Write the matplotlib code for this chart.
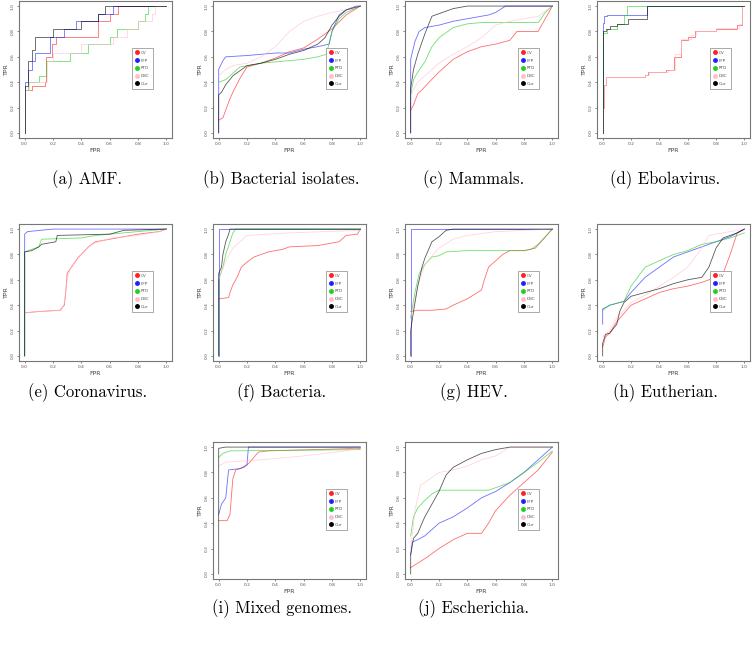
import matplotlib
matplotlib.use('Agg')
import matplotlib.pyplot as plt
from matplotlib.lines import Line2D

# ROC points (FPR, TPR), one list per panel and method
methods = ['CV', 'FFP', 'RTD', 'DBC', 'Our']
colors = ['#ff2020', '#2020ff', '#20d020', '#ffc0cb', '#000000']

# (a) AMF
amf_cv = [(0, 0), (0, 0.34), (0.05, 0.37), (0.14, 0.4), (0.15, 0.6), (0.19, 0.7), (0.22, 0.76), (0.52, 0.88), (0.6, 0.94), (0.66, 1.0), (1, 1)]
amf_ffp = [(0, 0), (0, 0.4), (0.02, 0.5), (0.05, 0.57), (0.07, 0.63), (0.18, 0.76), (0.28, 0.82), (0.36, 0.88), (0.52, 0.94), (0.62, 1.0), (1, 1)]
amf_rtd = [(0, 0), (0, 0.34), (0.02, 0.4), (0.1, 0.45), (0.15, 0.57), (0.32, 0.63), (0.45, 0.7), (0.6, 0.76), (0.65, 0.82), (0.8, 0.88), (0.85, 0.94), (0.87, 1.0), (1, 1)]
amf_dbc = [(0, 0), (0, 0.34), (0.03, 0.4), (0.16, 0.57), (0.2, 0.63), (0.4, 0.7), (0.62, 0.76), (0.72, 0.82), (0.8, 0.88), (0.9, 0.94), (0.92, 1.0), (1, 1)]
amf_our = [(0, 0), (0, 0.37), (0.02, 0.57), (0.05, 0.65), (0.07, 0.76), (0.2, 0.82), (0.4, 0.88), (0.52, 0.94), (0.57, 1.0), (1, 1)]

# (b) Bacterial isolates
bac_iso_cv = [(0, 0.1), (0.03, 0.12), (0.05, 0.18), (0.08, 0.27), (0.1, 0.32), (0.15, 0.43), (0.2, 0.52), (0.3, 0.55), (0.4, 0.59), (0.5, 0.64), (0.6, 0.67), (0.7, 0.74), (0.8, 0.82), (0.9, 0.93), (1, 1)]
bac_iso_ffp = [(0, 0), (0, 0.5), (0.03, 0.57), (0.05, 0.6), (0.2, 0.61), (0.4, 0.63), (0.5, 0.63), (0.6, 0.66), (0.7, 0.68), (0.78, 0.7), (0.8, 0.8), (0.85, 0.93), (0.9, 0.97), (0.97, 1.0), (1, 1)]
bac_iso_rtd = [(0, 0.4), (0.05, 0.42), (0.1, 0.47), (0.15, 0.52), (0.3, 0.55), (0.4, 0.56), (0.5, 0.57), (0.6, 0.58), (0.7, 0.6), (0.76, 0.62), (0.8, 0.8), (0.85, 0.9), (0.9, 0.95), (1, 1)]
bac_iso_dbc = [(0, 0.45), (0.05, 0.5), (0.1, 0.53), (0.2, 0.55), (0.3, 0.6), (0.4, 0.68), (0.5, 0.8), (0.6, 0.88), (0.7, 0.92), (0.8, 0.95), (0.9, 0.97), (1, 1)]
bac_iso_our = [(0, 0), (0, 0.3), (0.02, 0.32), (0.05, 0.38), (0.1, 0.45), (0.2, 0.53), (0.3, 0.55), (0.4, 0.58), (0.5, 0.62), (0.6, 0.65), (0.7, 0.7), (0.75, 0.75), (0.8, 0.85), (0.85, 0.92), (0.9, 0.97), (1, 1)]

# (c) Mammals
mam_cv = [(0, 0.18), (0.02, 0.22), (0.05, 0.31), (0.08, 0.34), (0.13, 0.4), (0.2, 0.48), (0.3, 0.58), (0.4, 0.64), (0.5, 0.68), (0.6, 0.7), (0.7, 0.73), (0.75, 0.8), (0.9, 0.8), (0.93, 0.86), (1, 1)]
mam_ffp = [(0, 0), (0, 0.58), (0.03, 0.72), (0.06, 0.8), (0.1, 0.83), (0.2, 0.85), (0.3, 0.88), (0.4, 0.9), (0.55, 0.93), (0.6, 0.95), (0.67, 1.0), (1, 1)]
mam_rtd = [(0, 0.3), (0.02, 0.42), (0.05, 0.48), (0.1, 0.56), (0.15, 0.68), (0.2, 0.75), (0.3, 0.83), (0.4, 0.86), (0.5, 0.87), (0.9, 0.87), (0.92, 0.9), (0.95, 0.95), (1, 1)]
mam_dbc = [(0, 0.3), (0.05, 0.4), (0.1, 0.45), (0.2, 0.55), (0.3, 0.62), (0.4, 0.68), (0.5, 0.75), (0.6, 0.85), (0.7, 0.88), (0.8, 0.9), (0.9, 0.92), (1, 1)]
mam_our = [(0, 0), (0, 0.35), (0.02, 0.5), (0.05, 0.62), (0.1, 0.78), (0.15, 0.92), (0.2, 0.94), (0.3, 0.98), (0.4, 1.0), (1, 1)]

# (d) Ebolavirus
ebo_cv = [(0, 0), (0, 0.2), (0.01, 0.38), (0.02, 0.44), (0.3, 0.46), (0.32, 0.48), (0.45, 0.5), (0.5, 0.6), (0.55, 0.73), (0.6, 0.76), (0.65, 0.8), (0.8, 0.82), (0.95, 0.85), (0.98, 1.0), (1, 1)]
ebo_ffp = [(0, 0), (0, 0.87), (0.01, 0.92), (0.03, 0.93), (0.31, 1.0), (1, 1)]
ebo_rtd = [(0, 0), (0, 0.79), (0.03, 0.82), (0.1, 0.86), (0.15, 0.93), (0.17, 1.0), (1, 1)]
ebo_dbc = [(0, 0), (0, 0.2), (0.01, 0.38), (0.02, 0.44), (0.3, 0.46), (0.33, 0.48), (0.46, 0.5), (0.51, 0.62), (0.55, 0.74), (0.62, 0.77), (0.66, 0.8), (0.8, 0.83), (0.96, 0.86), (0.98, 1.0), (1, 1)]
ebo_our = [(0, 0), (0, 0.8), (0.02, 0.82), (0.05, 0.84), (0.1, 0.86), (0.18, 0.9), (0.31, 1.0), (1, 1)]

# (e) Coronavirus
cor_cv = [(0, 0.34), (0.1, 0.35), (0.25, 0.36), (0.28, 0.4), (0.29, 0.5), (0.3, 0.65), (0.33, 0.7), (0.38, 0.78), (0.4, 0.8), (0.45, 0.86), (0.5, 0.9), (0.6, 0.92), (0.8, 0.96), (0.95, 0.98), (1, 1)]
cor_ffp = [(0, 0), (0, 0.96), (0.02, 0.98), (0.2, 1.0), (1, 1)]
cor_rtd = [(0, 0), (0, 0.82), (0.1, 0.86), (0.12, 0.92), (0.4, 0.93), (0.5, 0.95), (0.7, 0.97), (1, 1)]
cor_dbc = [(0, 0.34), (0.1, 0.35), (0.26, 0.36), (0.28, 0.42), (0.3, 0.6), (0.32, 0.68), (0.37, 0.76), (0.41, 0.81), (0.46, 0.87), (0.52, 0.9), (0.62, 0.93), (0.8, 0.95), (0.95, 0.98), (1, 1)]
cor_our = [(0, 0), (0, 0.82), (0.05, 0.83), (0.1, 0.86), (0.12, 0.88), (0.22, 0.9), (0.23, 0.95), (0.6, 0.96), (0.7, 0.99), (1, 1)]

# (f) Bacteria
bac_cv = [(0, 0.45), (0.07, 0.46), (0.08, 0.5), (0.1, 0.56), (0.13, 0.62), (0.16, 0.7), (0.2, 0.74), (0.25, 0.78), (0.3, 0.8), (0.35, 0.82), (0.45, 0.84), (0.5, 0.86), (0.7, 0.87), (0.85, 0.9), (0.9, 0.95), (0.98, 0.96), (1, 1)]
bac_ffp = [(0, 0), (0, 1.0), (1, 1)]
bac_rtd = [(0, 0), (0, 0.6), (0.03, 0.7), (0.05, 0.8), (0.08, 0.9), (0.1, 0.97), (0.12, 1.0), (1, 1)]
bac_dbc = [(0, 0.6), (0.05, 0.75), (0.1, 0.85), (0.2, 0.95), (0.5, 0.97), (1, 0.99)]
bac_our = [(0, 0), (0, 0.65), (0.02, 0.7), (0.03, 0.8), (0.05, 0.9), (0.07, 0.96), (0.08, 1.0), (1, 1)]

# (g) HEV
hev_cv = [(0, 0.35), (0.05, 0.36), (0.15, 0.36), (0.25, 0.37), (0.3, 0.4), (0.4, 0.45), (0.5, 0.52), (0.52, 0.6), (0.55, 0.7), (0.6, 0.75), (0.65, 0.8), (0.7, 0.83), (0.8, 0.83), (0.88, 0.85), (1, 1)]
hev_ffp = [(0, 0), (0, 1.0), (1, 1)]
hev_rtd = [(0, 0.3), (0.03, 0.5), (0.06, 0.65), (0.1, 0.72), (0.15, 0.78), (0.2, 0.79), (0.25, 0.82), (0.4, 0.83), (0.8, 0.83), (0.85, 0.84), (0.9, 0.88), (1, 1)]
hev_dbc = [(0, 0.3), (0.05, 0.55), (0.1, 0.72), (0.2, 0.85), (0.3, 0.92), (0.4, 0.95), (0.6, 0.98), (1, 1)]
hev_our = [(0, 0), (0, 0.2), (0.02, 0.35), (0.05, 0.55), (0.08, 0.7), (0.1, 0.77), (0.15, 0.9), (0.2, 0.94), (0.25, 0.99), (0.3, 1.0), (1, 1)]

# (h) Eutherian
eut_cv = [(0, 0.07), (0.02, 0.15), (0.05, 0.18), (0.1, 0.27), (0.2, 0.4), (0.3, 0.45), (0.4, 0.5), (0.5, 0.53), (0.6, 0.55), (0.7, 0.58), (0.8, 0.62), (0.85, 0.65), (0.9, 0.8), (0.95, 0.97), (1, 1)]
eut_ffp = [(0, 0.25), (0, 0.37), (0.05, 0.4), (0.15, 0.43), (0.2, 0.5), (0.3, 0.62), (0.4, 0.7), (0.5, 0.78), (0.6, 0.82), (0.7, 0.86), (0.8, 0.9), (0.9, 0.94), (0.95, 0.97), (1, 1)]
eut_rtd = [(0, 0.36), (0.05, 0.4), (0.15, 0.43), (0.2, 0.55), (0.3, 0.7), (0.4, 0.75), (0.5, 0.8), (0.6, 0.83), (0.7, 0.88), (0.8, 0.9), (0.9, 0.93), (1, 0.97)]
eut_dbc = [(0, 0.15), (0.05, 0.2), (0.1, 0.3), (0.2, 0.42), (0.3, 0.48), (0.4, 0.55), (0.5, 0.62), (0.6, 0.7), (0.7, 0.85), (0.75, 0.95), (0.85, 0.97), (1, 1)]
eut_our = [(0, 0), (0, 0.1), (0.02, 0.17), (0.05, 0.18), (0.1, 0.25), (0.12, 0.35), (0.15, 0.42), (0.2, 0.47), (0.3, 0.5), (0.4, 0.53), (0.5, 0.57), (0.6, 0.6), (0.7, 0.62), (0.75, 0.7), (0.8, 0.85), (0.85, 0.93), (0.9, 0.95), (0.95, 0.97), (1, 1)]

# (i) Mixed genomes
mix_cv = [(0, 0.42), (0.06, 0.42), (0.08, 0.47), (0.1, 0.75), (0.12, 0.82), (0.18, 0.84), (0.22, 0.88), (0.28, 0.96), (0.35, 0.97), (1, 0.99)]
mix_ffp = [(0, 0.47), (0.02, 0.55), (0.05, 0.6), (0.07, 0.82), (0.15, 0.83), (0.2, 0.86), (0.21, 1.0), (1, 1)]
mix_rtd = [(0, 0.92), (0.03, 0.95), (0.08, 0.97), (1, 0.98)]
mix_dbc = [(0, 0.85), (0.05, 0.88), (0.3, 0.9), (0.6, 0.93), (0.9, 0.97), (1, 1)]
mix_our = [(0, 0), (0, 0.99), (0.05, 1.0), (1, 1)]

# (j) Escherichia
esc_cv = [(0, 0.05), (0.1, 0.12), (0.2, 0.2), (0.3, 0.27), (0.4, 0.32), (0.5, 0.32), (0.55, 0.4), (0.6, 0.5), (0.7, 0.62), (0.8, 0.72), (0.9, 0.82), (1, 0.96)]
esc_ffp = [(0, 0.15), (0.01, 0.25), (0.05, 0.27), (0.1, 0.3), (0.15, 0.35), (0.2, 0.4), (0.3, 0.45), (0.4, 0.52), (0.5, 0.6), (0.6, 0.65), (0.7, 0.72), (0.8, 0.8), (0.9, 0.9), (1, 1)]
esc_rtd = [(0, 0.3), (0.02, 0.45), (0.05, 0.52), (0.1, 0.58), (0.15, 0.63), (0.2, 0.66), (0.55, 0.66), (0.6, 0.68), (0.7, 0.72), (0.8, 0.8), (0.9, 0.88), (1, 0.97)]
esc_dbc = [(0, 0.2), (0.03, 0.5), (0.07, 0.7), (0.1, 0.72), (0.2, 0.8), (0.3, 0.82), (0.4, 0.85), (0.5, 0.9), (0.6, 0.93), (0.7, 1.0), (1, 1)]
esc_our = [(0, 0), (0, 0.15), (0.02, 0.28), (0.05, 0.32), (0.08, 0.4), (0.1, 0.45), (0.15, 0.55), (0.2, 0.65), (0.25, 0.78), (0.3, 0.84), (0.4, 0.9), (0.5, 0.95), (0.6, 0.98), (0.7, 1.0), (1, 1)]

captions = ['(a) AMF.', '(b) Bacterial isolates.', '(c) Mammals.', '(d) Ebolavirus.',
            '(e) Coronavirus.', '(f) Bacteria.', '(g) HEV.', '(h) Eutherian.',
            '(i) Mixed genomes.', '(j) Escherichia.']
panel_curves = [
    [amf_cv, amf_ffp, amf_rtd, amf_dbc, amf_our],
    [bac_iso_cv, bac_iso_ffp, bac_iso_rtd, bac_iso_dbc, bac_iso_our],
    [mam_cv, mam_ffp, mam_rtd, mam_dbc, mam_our],
    [ebo_cv, ebo_ffp, ebo_rtd, ebo_dbc, ebo_our],
    [cor_cv, cor_ffp, cor_rtd, cor_dbc, cor_our],
    [bac_cv, bac_ffp, bac_rtd, bac_dbc, bac_our],
    [hev_cv, hev_ffp, hev_rtd, hev_dbc, hev_our],
    [eut_cv, eut_ffp, eut_rtd, eut_dbc, eut_our],
    [mix_cv, mix_ffp, mix_rtd, mix_dbc, mix_our],
    [esc_cv, esc_ffp, esc_rtd, esc_dbc, esc_our],
]
step_panels = [0, 3]

W, H = 753, 645
fig = plt.figure(figsize=(W / 100, H / 100), dpi=100)

col_left = [19, 213, 405, 597]
row_top = [1, 224, 442]
box_w, box_h = 153, 137
# (row, col) of each panel; the last row is centred
slots = [(0, 0), (0, 1), (0, 2), (0, 3),
         (1, 0), (1, 1), (1, 2), (1, 3),
         (2, 1), (2, 2)]
cap_y = [180, 393, 609]

for i, (r, c) in enumerate(slots):
    left, top = col_left[c], row_top[r]
    ax = fig.add_axes([left / W, 1 - (top + box_h) / H, box_w / W, box_h / H])
    ds = 'steps-post' if i in step_panels else 'default'
    for pts, col in zip(panel_curves[i], colors):
        xs = [p[0] for p in pts]
        ys = [p[1] for p in pts]
        ax.plot(xs, ys, color=col, lw=0.6, alpha=0.65, drawstyle=ds)
    ax.set_xlim(-0.04, 1.04)
    ax.set_ylim(-0.04, 1.04)
    ticks = [0, 0.2, 0.4, 0.6, 0.8, 1.0]
    ax.set_xticks(ticks)
    ax.set_yticks(ticks)
    ax.set_xticklabels(['%.1f' % t for t in ticks])
    ax.set_yticklabels(['%.1f' % t for t in ticks], rotation=90, va='center')
    ax.tick_params(labelsize=3.2, length=1.5, width=0.5, pad=1.5, colors='#555555')
    for s in ax.spines.values():
        s.set_color('#777777')
        s.set_linewidth(0.8)
    ax.set_xlabel('FPR', fontsize=4.5, labelpad=1.0, color='#444444')
    ax.set_ylabel('TPR', fontsize=4.5, labelpad=1.5, color='#444444')

    handles = [Line2D([], [], marker='o', linestyle='none', color=col, markersize=2.5) for col in colors]
    leg = ax.legend(handles, methods, loc='upper left', bbox_to_anchor=(0.76, 0.67),
                    bbox_transform=ax.transData, fontsize=3, frameon=True, fancybox=False,
                    borderpad=0.7, labelspacing=0.9, handlelength=0.8, handletextpad=0.6,
                    borderaxespad=0, framealpha=1)
    leg.get_frame().set_edgecolor('#888888')
    leg.get_frame().set_linewidth(0.5)
    for t in leg.get_texts():
        t.set_color('#555555')

    cx = left + box_w / 2 - 8
    fig.text(cx / W, 1 - cap_y[r] / H, captions[i], family='cmr10', fontsize=12,
             ha='center', va='center')

fig.savefig('out.png', dpi=100)
